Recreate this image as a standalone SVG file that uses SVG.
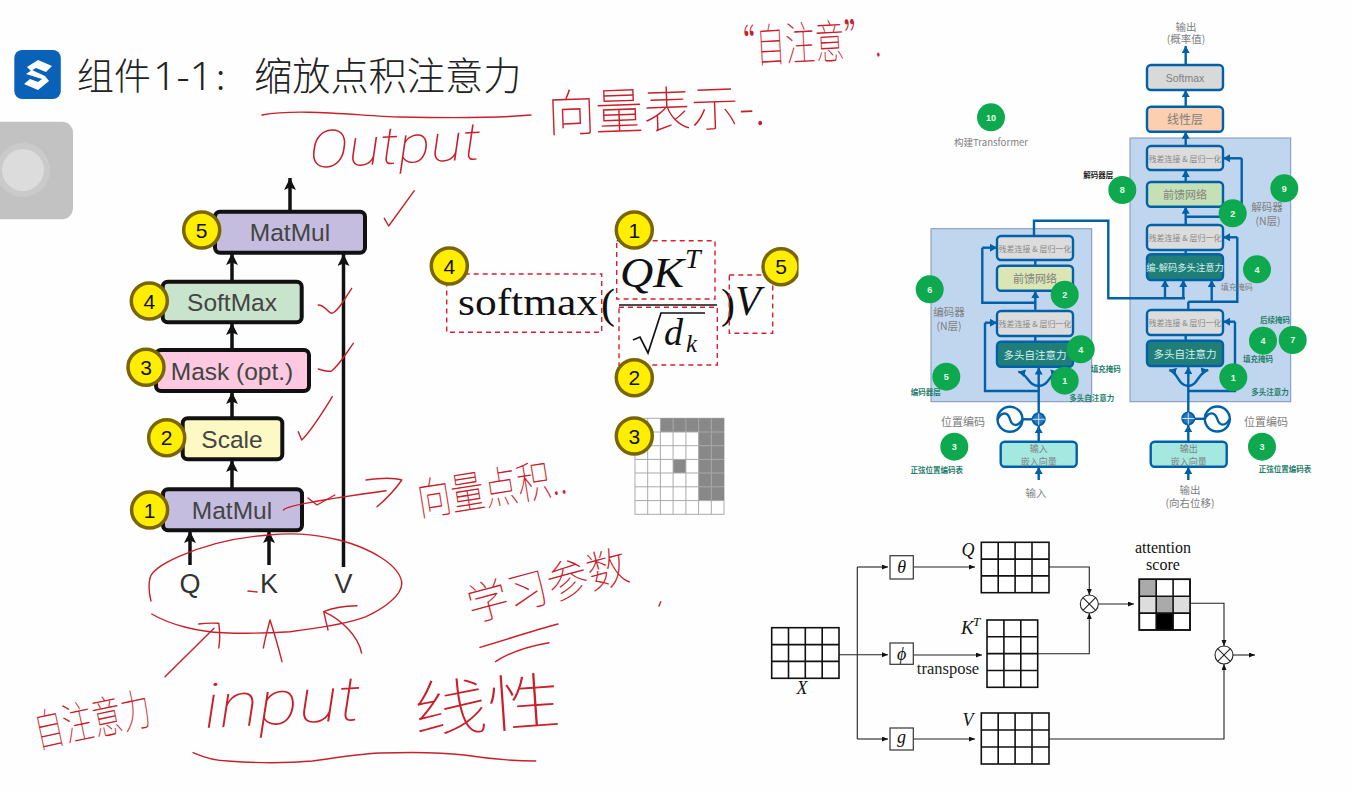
<svg xmlns="http://www.w3.org/2000/svg" width="1353" height="791" viewBox="0 0 1353 791">
<style>
text{font-family:"Noto Sans CJK SC","Liberation Sans",sans-serif}
.lat{font-family:"Liberation Sans","Noto Sans CJK SC",sans-serif}
.ser{font-family:"Liberation Serif",serif}
.it{font-family:"Liberation Serif",serif;font-style:italic}
.c{text-anchor:middle}
.node{stroke:#111;stroke-width:4}
.nt{font-family:"Liberation Sans",sans-serif;font-size:24.5px;fill:#444;text-anchor:middle}
.y{fill:#ffee00;stroke:#7a6600;stroke-width:3.5}
.yt{font-family:"Liberation Sans",sans-serif;font-size:21px;fill:#111;text-anchor:middle}
.blk{fill:none;stroke:#111;stroke-width:3.5;marker-end:url(#ab)}
.dash{fill:none;stroke:#d62030;stroke-width:1.4;stroke-dasharray:5 4}
.tb{stroke:#0060a8;stroke-width:2.4}
.tw{fill:none;stroke:#0060a8;stroke-width:2.4}
.twa{fill:none;stroke:#0060a8;stroke-width:2.4;marker-end:url(#au)}
.g{fill:#0ea84e}
.gt{font-family:"Liberation Sans",sans-serif;font-size:9px;font-weight:bold;fill:#e8ffe8;text-anchor:middle}
.tg{fill:#808080;text-anchor:middle;font-size:10.5px}
.ts{fill:#888;text-anchor:middle;font-size:8px}
.tm{fill:#1f7f6a;text-anchor:middle;font-size:7.5px;font-weight:bold}
.te{fill:#808080;text-anchor:middle;font-size:9px}
.grid{fill:#fff;stroke:#111;stroke-width:1.6}
.ln{fill:none;stroke:#222;stroke-width:1.1;marker-end:url(#as)}
.ln0{fill:none;stroke:#222;stroke-width:1.1}
.o{fill:#fff;stroke:#222;stroke-width:1.1}
.sq{fill:#fff;stroke:#333;stroke-width:1.2}
.r{fill:none;stroke:#c8202a;stroke-width:1.4;stroke-linecap:round;stroke-linejoin:round}
.hw{fill:#c8202a;font-weight:100}
.hl{fill:#c8202a;font-family:Roboto,sans-serif;font-weight:100;font-style:italic}
</style>
<defs>
<marker id="ab" markerUnits="userSpaceOnUse" markerWidth="12" markerHeight="14" refX="12" refY="6" orient="auto"><path d="M0 0L12 6L0 12L2.5 6Z" fill="#111"/></marker>
<marker id="au" markerUnits="userSpaceOnUse" markerWidth="7" markerHeight="8" refX="7" refY="4" orient="auto"><path d="M0 0L7 4L0 8Z" fill="#0060a8"/></marker>
<marker id="as" markerUnits="userSpaceOnUse" markerWidth="6" markerHeight="6" refX="6" refY="2.5" orient="auto"><path d="M0 0L6 2.5L0 5Z" fill="#111"/></marker>
<clipPath id="cp"><rect x="0" y="0" width="798.5" height="791"/></clipPath>
</defs>
<rect width="1353" height="791" fill="#fefefe"/>

<g id="header">
<rect x="14.3" y="50" width="46.5" height="49" rx="8" fill="#0a62b8"/>
<path d="M38 60L52 66L46 72L36 68L31 71L27 67ZM26 74L32 70L45 76L49 81L38 90L24 84L30 79L38 82L42 79Z" fill="#fff"/>
<text x="77" y="90" font-size="37" font-weight="300" fill="#222">组件</text>
<text x="153" y="90" font-size="38" font-weight="300" fill="#222" style="font-family:'Noto Sans',sans-serif" textLength="60" lengthAdjust="spacingAndGlyphs">1-1</text>
<text x="216" y="90" font-size="37" font-weight="300" fill="#222">:</text>
<text x="254" y="90" font-size="38.2" font-weight="300" fill="#222">缩放点积注意力</text>
</g>
<g id="sidebar">
<rect x="-12" y="121.7" width="85" height="97.6" rx="11" fill="#c2c2c2"/>
<circle cx="23" cy="170" r="27" fill="#cacaca"/>
<circle cx="23" cy="170" r="21" fill="#dcdcdc"/>
</g>

<g id="left-connectors">
<path class="blk" d="M290 211V178"/>
<path class="blk" d="M232 282V253"/>
<path class="blk" d="M232 350V323"/>
<path class="blk" d="M232 418V392"/>
<path class="blk" d="M232 489V460"/>
<path class="blk" d="M190 565V531"/>
<path class="blk" d="M269 565V531"/>
<path class="blk" d="M343.5 567V254"/>
</g>
<g id="matmul-top"><rect class="node" x="215" y="211.7" width="150" height="41" rx="5" fill="#c5bde0"/><text class="nt" x="290" y="241">MatMul</text><circle class="y" cx="201.7" cy="230" r="18"/><text class="yt" x="201.7" y="237.5">5</text></g>
<g id="softmax"><rect class="node" x="162.7" y="281.7" width="139" height="40.6" rx="5" fill="#c9e4cc"/><text class="nt" x="232" y="311">SoftMax</text><circle class="y" cx="149.3" cy="301" r="18"/><text class="yt" x="149.3" y="308.5">4</text></g>
<g id="mask"><rect class="node" x="156" y="350" width="153" height="41" rx="5" fill="#fcc9e0"/><text class="nt" x="232" y="380">Mask (opt.)</text><circle class="y" cx="146" cy="367.3" r="18"/><text class="yt" x="146" y="374.8">3</text></g>
<g id="scale"><rect class="node" x="182.7" y="418.3" width="99.6" height="41" rx="5" fill="#fdf9c4"/><text class="nt" x="232" y="447.5">Scale</text><circle class="y" cx="166.7" cy="437.7" r="18"/><text class="yt" x="166.7" y="445.2">2</text></g>
<g id="matmul-bottom"><rect class="node" x="163" y="489.3" width="139" height="41" rx="5" fill="#c5bde0"/><text class="nt" x="232" y="519">MatMul</text><circle class="y" cx="149.6" cy="510" r="18"/><text class="yt" x="149.6" y="517.5">1</text></g>
<g id="inputs">
<text class="lat c" x="190" y="593" font-size="27" fill="#333">Q</text>
<text class="lat c" x="269" y="593" font-size="27" fill="#333">K</text>
<text class="lat c" x="343.5" y="593" font-size="27" fill="#333">V</text>
</g>

<g id="formula">
<text class="ser" x="458" y="315" font-size="38" fill="#111" textLength="140" lengthAdjust="spacingAndGlyphs">softmax</text>
<text class="ser" x="601" y="318" font-size="42" fill="#111">(</text>
<text class="it" x="620" y="287" font-size="42" fill="#111" textLength="64" lengthAdjust="spacingAndGlyphs">QK</text>
<text class="it" x="685" y="268" font-size="28" fill="#111">T</text>
<path d="M619 305H717" stroke="#111" stroke-width="1.6"/>
<path d="M633 340L640 337L648 353L661 313H705" fill="none" stroke="#111" stroke-width="1.7"/>
<text class="it" x="664" y="345" font-size="38" fill="#111">d</text>
<text class="it" x="686" y="352" font-size="25" fill="#111">k</text>
<text class="ser" x="721" y="318" font-size="42" fill="#111">)</text>
<text class="it" x="735" y="315" font-size="42" fill="#111">V</text>
<rect class="dash" x="446.7" y="274" width="155" height="58.3"/>
<rect class="dash" x="616.7" y="240.7" width="98.3" height="58.3"/>
<rect class="dash" x="619" y="307.3" width="98.3" height="57.7"/>
<rect class="dash" x="729.3" y="275" width="43.4" height="58.3"/>
</g>
<g id="mask-grid">
<rect x="635" y="418.3" width="89" height="96" fill="#fff" stroke="#aaa"/>
<path d="M660.4 418.3H724V431.9H660.4ZM698.6 418.3H724V500.6H698.6ZM673.1 459.5H685.9V473H673.1Z" fill="#888"/>
<path d="M647.7 418.3V514.3M660.4 418.3V514.3M673.1 418.3V514.3M685.9 418.3V514.3M698.6 418.3V514.3M711.3 418.3V514.3M635 432H724M635 445.7H724M635 459.4H724M635 473H724M635 486.8H724M635 500.6H724" stroke="#aaa" stroke-width="1" fill="none"/>
</g>
<g id="badge-f1"><circle class="y" cx="634.3" cy="230" r="18"/><text class="yt" x="634.3" y="237.5">1</text></g>
<g id="badge-f2"><circle class="y" cx="634.3" cy="377.7" r="18"/><text class="yt" x="634.3" y="385.2">2</text></g>
<g id="badge-f3"><circle class="y" cx="634.3" cy="436" r="18"/><text class="yt" x="634.3" y="443.5">3</text></g>
<g id="badge-f4"><circle class="y" cx="449.3" cy="266" r="18"/><text class="yt" x="449.3" y="273.5">4</text></g>
<g id="badge-f5" clip-path="url(#cp)"><circle class="y" cx="781" cy="266.7" r="18"/><text class="yt" x="781" y="274.2">5</text></g>

<g id="enc-box"><rect x="931" y="228.7" width="160.7" height="173" fill="#c0d6ee" stroke="#7f93bb" stroke-width="1"/></g>
<g id="dec-box"><rect x="1130" y="138" width="160.7" height="263.7" fill="#c0d6ee" stroke="#7f93bb" stroke-width="1"/></g>

<g id="transformer-connectors">
<path class="twa" d="M1185.7 65V46"/>
<path class="twa" d="M1185.7 106.7V90"/>
<path class="twa" d="M1185.7 146V131.7"/>
<path class="twa" d="M1185.7 182V170"/>
<path class="twa" d="M1185.7 225V206.7"/>
<path class="tw" d="M1185.7 254V250"/>
<path class="tw" d="M1185.7 216.7H1241.7V158.3"/><path class="twa" d="M1241.7 158.3H1223"/>
<path class="tw" d="M1188.3 301.7H1237.3V237.3"/><path class="twa" d="M1237.3 237.3H1223"/>
<path class="tw" d="M1034 236V220.7H1108.3V298.3H1185"/>
<path class="twa" d="M1165 298.3V280"/>
<path class="twa" d="M1183.3 298.3V280"/>
<path class="twa" d="M1211.7 301.7V280"/>
<path class="tw" d="M1188.3 310V301.7"/>
<path class="tw" d="M1185.7 340.7V335"/>
<path class="twa" d="M1188.3 480V467"/>
<path class="twa" d="M1188.3 441.7V425"/>
<path class="twa" d="M1188.3 412V367"/>
<path class="tw" d="M1188.3 391H1235V321.7"/><path class="twa" d="M1235 321.7H1223"/>
<path class="twa" d="M1188.3 386C1178 386 1178 372 1169.3 370"/>
<path class="twa" d="M1188.3 386C1198 386 1198 372 1208.3 370"/>
<path class="twa" d="M1038.7 480V467"/>
<path class="twa" d="M1038.7 441.7V426"/>
<path class="twa" d="M1038.7 413V367.5"/>
<path class="tw" d="M1038.7 391H985V322.7"/><path class="twa" d="M985 322.7H997"/>
<path class="twa" d="M1038.7 386C1028 386 1028 374 1018.3 371.7"/>
<path class="twa" d="M1038.7 386C1049 386 1049 374 1058 371.7"/>
<path class="tw" d="M1035.3 341.7V336"/>
<path class="twa" d="M1035.3 311V291"/>
<path class="tw" d="M1035.3 265.7V260"/>
<path class="tw" d="M1035 302.7H982.3V247.7"/><path class="twa" d="M982.3 247.7H997"/>
</g>

<g id="t-softmax"><rect class="tw" style="fill:#d9d9d9" x="1147" y="65" width="76" height="25" rx="4"/><text class="lat tg" x="1185" y="81.5">Softmax</text></g>
<g id="t-linear"><rect class="tw" style="fill:#fbcfb0" x="1147" y="106.7" width="76" height="25" rx="4"/><text class="tg" x="1185" y="123.5" style="font-size:12px">线性层</text></g>
<g id="t-dec-add2"><rect class="tw" style="fill:#dcdcdc" x="1147" y="146" width="76" height="24" rx="4"/><text class="ts" x="1185" y="161.5">残差连接 &amp; 层归一化</text></g>
<g id="t-dec-ff"><rect class="tw" style="fill:#c5e0b4" x="1147" y="182" width="76" height="24.7" rx="4"/><text class="tg" x="1185" y="198.5" style="font-size:11px">前馈网络</text></g>
<g id="t-dec-add1"><rect class="tw" style="fill:#dcdcdc" x="1147" y="225" width="76" height="25" rx="4"/><text class="ts" x="1185" y="240.5">残差连接 &amp; 层归一化</text></g>
<g id="t-dec-cross"><rect class="tw" style="fill:#1f7f78" x="1147" y="254.3" width="76" height="25.7" rx="4"/><text class="c" x="1185" y="271" font-size="9.3" fill="#d8f0ee">编-解码多头注意力</text></g>
<g id="t-dec-add0"><rect class="tw" style="fill:#dcdcdc" x="1147" y="310" width="76" height="25" rx="4"/><text class="ts" x="1185" y="325.5">残差连接 &amp; 层归一化</text></g>
<g id="t-dec-mha"><rect class="tw" style="fill:#1f7f78" x="1147" y="340.7" width="76" height="25.3" rx="4"/><text class="c" x="1185" y="357.5" font-size="10.5" fill="#d8f0ee">多头自注意力</text></g>
<g id="t-enc-add1"><rect class="tw" style="fill:#dcdcdc" x="997" y="236" width="76" height="24" rx="4"/><text class="ts" x="1035" y="251.5">残差连接 &amp; 层归一化</text></g>
<g id="t-enc-ff"><rect class="tw" style="fill:#dce6b5" x="997" y="265.7" width="76" height="25" rx="4"/><text class="tg" x="1035" y="282.5" style="font-size:11px">前馈网络</text></g>
<g id="t-enc-add0"><rect class="tw" style="fill:#dcdcdc" x="997" y="311" width="76" height="25" rx="4"/><text class="ts" x="1035" y="326.5">残差连接 &amp; 层归一化</text></g>
<g id="t-enc-mha"><rect class="tw" style="fill:#1f7f78" x="997" y="341.7" width="76" height="25" rx="4"/><text class="c" x="1035" y="358.5" font-size="10.5" fill="#d8f0ee">多头自注意力</text></g>
<g id="t-enc-emb"><rect class="tw" style="fill:#a5e8e0" x="1000.7" y="441.7" width="76" height="25" rx="4"/><text class="te" x="1038.7" y="452">输入</text><text class="te" x="1038.7" y="464.5">嵌入向量</text></g>
<g id="t-dec-emb"><rect class="tw" style="fill:#a5e8e0" x="1150.7" y="441.7" width="76" height="25" rx="4"/><text class="te" x="1188.7" y="452">输出</text><text class="te" x="1188.7" y="464.5">嵌入向量</text></g>

<g id="t-enc-pe">
<path class="tb" d="M1022 419.3H1033"/>
<circle cx="1010" cy="419.3" r="12.5" fill="#fff" stroke="#0060a8" stroke-width="2.4"/>
<path class="tw" d="M997.5 419.3C1002 411 1008 412 1010 419.3S1018 427 1022.5 419.3"/>
<circle cx="1038.7" cy="419.3" r="6" fill="#2a78c0" stroke="#0060a8" stroke-width="2"/>
<path d="M1032.7 419.3H1044.7M1038.7 413.3V425.3" stroke="#cfe4f7" stroke-width="1"/>
</g>
<g id="t-dec-pe">
<path class="tb" d="M1194 418.8H1205"/>
<circle cx="1217.3" cy="419" r="12.5" fill="#fff" stroke="#0060a8" stroke-width="2.4"/>
<path class="tw" d="M1204.8 419C1209 411 1215 412 1217.3 419S1225 427 1229.8 419"/>
<circle cx="1188.3" cy="418.5" r="6" fill="#2a78c0" stroke="#0060a8" stroke-width="2"/>
<path d="M1182.3 418.5H1194.3M1188.3 412.5V424.5" stroke="#cfe4f7" stroke-width="1"/>
</g>

<g id="t-labels">
<text class="tg" x="1186" y="30.5">输出</text><text class="tg" x="1186" y="43">(概率值)</text>
<text class="tg" x="991" y="145.5" style="font-size:9.6px">构建Transformer</text>
<text class="tg" x="1267" y="211">解码器</text><text class="tg" x="1268" y="225">(N层)</text>
<text class="tg" x="949" y="315.5">编码器</text><text class="tg" x="949" y="330">(N层)</text>
<text class="tg" x="963" y="426" style="font-size:11px">位置编码</text>
<text class="tg" x="1266" y="426" style="font-size:11px">位置编码</text>
<text class="tg" x="1036" y="497">输入</text>
<text class="tg" x="1190" y="493.5">输出</text><text class="tg" x="1190" y="507">(向右位移)</text>
<text class="c" x="1098.3" y="177.5" font-size="7.5" font-weight="bold" fill="#222">解码器层</text>
<text class="tg" x="1236.7" y="289.5" style="font-size:8px">填充掩码</text>
<text class="tm" x="1275" y="323">后续掩码</text>
<text class="tm" x="1258" y="362">填充掩码</text>
<text class="tm" x="1270" y="395">多头注意力</text>
<text class="tm" x="1105.7" y="371.5">填充掩码</text>
<text class="tm" x="1091.7" y="401">多头自注意力</text>
<text class="tm" x="925.7" y="395">编码器层</text>
<text class="tm" x="936.7" y="473">正弦位置编码表</text>
<text class="tm" x="1285" y="472">正弦位置编码表</text>
</g>

<g id="g10"><circle class="g" cx="991" cy="117.3" r="14"/><text class="gt" x="991" y="120.5">10</text></g>
<g id="g8"><circle class="g" cx="1122.3" cy="190" r="14"/><text class="gt" x="1122.3" y="193.2">8</text></g>
<g id="g9"><circle class="g" cx="1284.3" cy="188.3" r="14"/><text class="gt" x="1284.3" y="191.5">9</text></g>
<g id="g2d"><circle class="g" cx="1232.7" cy="213.3" r="14"/><text class="gt" x="1232.7" y="216.5">2</text></g>
<g id="g4d"><circle class="g" cx="1257" cy="269.3" r="14"/><text class="gt" x="1257" y="272.5">4</text></g>
<g id="g6"><circle class="g" cx="929.7" cy="289.3" r="14"/><text class="gt" x="929.7" y="292.5">6</text></g>
<g id="g2e"><circle class="g" cx="1064.7" cy="294.7" r="14"/><text class="gt" x="1064.7" y="297.9">2</text></g>
<g id="g4e"><circle class="g" cx="1080.7" cy="349.3" r="14"/><text class="gt" x="1080.7" y="352.5">4</text></g>
<g id="g1e"><circle class="g" cx="1064.7" cy="380.7" r="14"/><text class="gt" x="1064.7" y="383.9">1</text></g>
<g id="g5"><circle class="g" cx="946.3" cy="376.7" r="14"/><text class="gt" x="946.3" y="379.9">5</text></g>
<g id="g1d"><circle class="g" cx="1233.3" cy="377.3" r="14"/><text class="gt" x="1233.3" y="380.5">1</text></g>
<g id="g4r"><circle class="g" cx="1263" cy="340.7" r="14"/><text class="gt" x="1263" y="343.9">4</text></g>
<g id="g7"><circle class="g" cx="1292.7" cy="340" r="14"/><text class="gt" x="1292.7" y="343.2">7</text></g>
<g id="g3l"><circle class="g" cx="954.3" cy="446.7" r="14"/><text class="gt" x="954.3" y="449.9">3</text></g>
<g id="g3r"><circle class="g" cx="1262" cy="446.7" r="14"/><text class="gt" x="1262" y="449.9">3</text></g>

<g id="nl-connectors">
<path class="ln" d="M839 654.7H888"/>
<path class="ln0" d="M857.3 654.7V567"/><path class="ln" d="M857.3 567H888"/>
<path class="ln0" d="M857.3 654.7V739"/><path class="ln" d="M857.3 739H888"/>
<path class="ln" d="M913.3 567H975"/>
<path class="ln" d="M913.3 655H982"/>
<path class="ln" d="M913.3 739H975"/>
<path class="ln" d="M1049 567H1089.3V595"/>
<path class="ln" d="M1037.7 653.7H1089.3V613"/>
<path class="ln" d="M1098.3 604H1134"/>
<path class="ln" d="M1190 603.3H1224V646"/>
<path class="ln" d="M1049 739H1224V664"/>
<path class="ln" d="M1233 655H1255"/>
</g>
<g id="nl-x"><rect class="grid" x="771.7" y="627.7" width="67.3" height="50.6"/><path class="grid" d="M788.5 627.7V678.3M805.3 627.7V678.3M822.2 627.7V678.3M771.7 644.6H839M771.7 661.4H839"/><text class="it c" x="802" y="694" font-size="18" fill="#111">X</text></g>
<g id="nl-q"><rect class="grid" x="981.3" y="542.3" width="67.7" height="50.4"/><path class="grid" d="M998.2 542.3V592.7M1015.1 542.3V592.7M1032 542.3V592.7M981.3 559.1H1049M981.3 575.9H1049"/><text class="it c" x="968" y="556" font-size="18" fill="#111">Q</text></g>
<g id="nl-k"><rect class="grid" x="987" y="620" width="50.7" height="67.3"/><path class="grid" d="M1003.9 620V687.3M1020.8 620V687.3M987 636.8H1037.7M987 653.6H1037.7M987 670.5H1037.7"/><text class="it" x="961" y="634" font-size="19" fill="#111">K</text><text class="it" x="973" y="626" font-size="13" fill="#111">T</text></g>
<g id="nl-v"><rect class="grid" x="981.3" y="713" width="67.7" height="51"/><path class="grid" d="M998.2 713V764M1015.1 713V764M1032 713V764M981.3 730H1049M981.3 747H1049"/><text class="it c" x="968" y="726" font-size="18" fill="#111">V</text></g>
<g id="nl-score">
<rect class="grid" x="1139.3" y="579.3" width="50.7" height="50.7"/>
<rect x="1139.3" y="579.3" width="16.9" height="16.9" fill="#aaa"/>
<rect x="1139.3" y="596.2" width="16.9" height="16.9" fill="#ddd"/>
<rect x="1156.2" y="596.2" width="16.9" height="16.9" fill="#aaa"/>
<rect x="1173.1" y="596.2" width="16.9" height="16.9" fill="#ddd"/>
<rect x="1156.2" y="613.1" width="16.9" height="16.9" fill="#000"/>
<path class="grid" style="fill:none" d="M1139.3 579.3H1190V630H1139.3ZM1156.2 579.3V630M1173.1 579.3V630M1139.3 596.2H1190M1139.3 613.1H1190"/>
<text class="ser c" x="1163" y="553" font-size="16" fill="#111">attention</text>
<text class="ser c" x="1163" y="570" font-size="16" fill="#111">score</text>
</g>
<g id="nl-theta"><rect class="sq" x="890" y="555.7" width="23.3" height="23.3"/><text class="it c" x="901.6" y="573" font-size="18" fill="#111">θ</text></g>
<g id="nl-phi"><rect class="sq" x="890" y="643" width="23.3" height="21.3"/><text class="it c" x="901.6" y="660" font-size="18" fill="#111">ϕ</text></g>
<g id="nl-g"><rect class="sq" x="890" y="728" width="23.3" height="22"/><text class="it c" x="901.6" y="743" font-size="18" fill="#111">g</text></g>
<text class="ser c" x="948" y="674" font-size="16.5" fill="#222">transpose</text>
<g id="nl-mul1"><circle class="o" cx="1089.3" cy="604" r="9"/><path class="ln0" d="M1083 597.7L1095.6 610.3M1095.6 597.7L1083 610.3"/></g>
<g id="nl-mul2"><circle class="o" cx="1224" cy="655" r="9"/><path class="ln0" d="M1217.7 648.7L1230.3 661.3M1230.3 648.7L1217.7 661.3"/></g>

<g id="annotations">
<path class="r" d="M262 115C300 108 360 116 400 117C450 118 500 118 531 115"/>
<path class="r" d="M384.3 218.3L388.7 226L414.3 190.7"/>
<path class="r" d="M318.3 305C325 305 328 313 331.7 313.3C338 312 345 298 351.7 288.3"/>
<path class="r" d="M318.3 369C324 371 328 372 331.7 371C340 364 347 352 353.3 343.3"/>
<path class="r" d="M298.3 431.7L301.7 440C312 430 324 410 332.3 396.7"/>
<path class="r" d="M283.5 510C285 505 340 497 386 490.7"/>
<path class="r" d="M366 480C380 478 395 478 401.8 480C395 490 385 500 377 506.7"/>
<path class="r" d="M308 498L317 505L334.8 495"/>
<path class="r" d="M151.8 614C170 625 200 632 223 632.7C250 634 270 633 290 631.7C320 628 350 623 366 616.7C385 608 402 595 401.8 583C400 565 370 548 339 540C310 533 290 533 268 535C230 538 200 547 178.6 556.7C160 565 150 572 149.6 580C148 590 150 597 151 601"/>
<path class="r" d="M248 591L257 592"/>
<path class="r" d="M165 676.7L214 628.3M198.7 624C206 623 212 623 218.8 623.3C220 632 220 640 218.8 648"/>
<path class="r" d="M263.4 648C265 638 268 628 270 620C274 632 279 650 282 661.7"/>
<path class="r" d="M357 605.7C345 606 332 608 323.7 611.7C325 618 327 625 328 630M323.7 611.7C342 620 358 636 361.6 653"/>
<path class="r" d="M193 752.7C205 758 216 761 228 761C255 763 290 763 312.5 761C340 757 360 754 379.5 753C410 752 440 752 464 755C490 759 515 761 535.7 761"/>
<path class="r" d="M480 647.3C505 640 535 630 558 624M495.5 661.7C510 652 530 646 549 642.7"/>
<path class="r" d="M660.7 601.7L659 606"/>
<text class="hw" transform="translate(727,64) rotate(-3)" font-size="46" textLength="155" lengthAdjust="spacingAndGlyphs">“自注意”.</text>
<text class="hw" transform="translate(548,132) rotate(-2)" font-size="50" textLength="218" lengthAdjust="spacingAndGlyphs">向量表示-.</text>
<text class="hl" transform="translate(310,168) rotate(-3)" font-size="52" textLength="172" lengthAdjust="spacingAndGlyphs">Output</text>
<text class="hw" transform="translate(420,516) rotate(-9)" font-size="44" textLength="150" lengthAdjust="spacingAndGlyphs">向量点积..</text>
<text class="hw" transform="translate(472,622) rotate(-15)" font-size="44" textLength="165" lengthAdjust="spacingAndGlyphs">学习参数</text>
<text class="hw" transform="translate(38,748) rotate(-12) scale(1,1.35)" font-size="33" textLength="118" lengthAdjust="spacingAndGlyphs">自注意力</text>
<text class="hl" transform="translate(205,728) rotate(-3)" font-size="62" textLength="157" lengthAdjust="spacingAndGlyphs">input</text>
<text class="hw" transform="translate(415,733) rotate(-4)" font-size="62" textLength="148" lengthAdjust="spacingAndGlyphs">线性</text>
</g>
</svg>
